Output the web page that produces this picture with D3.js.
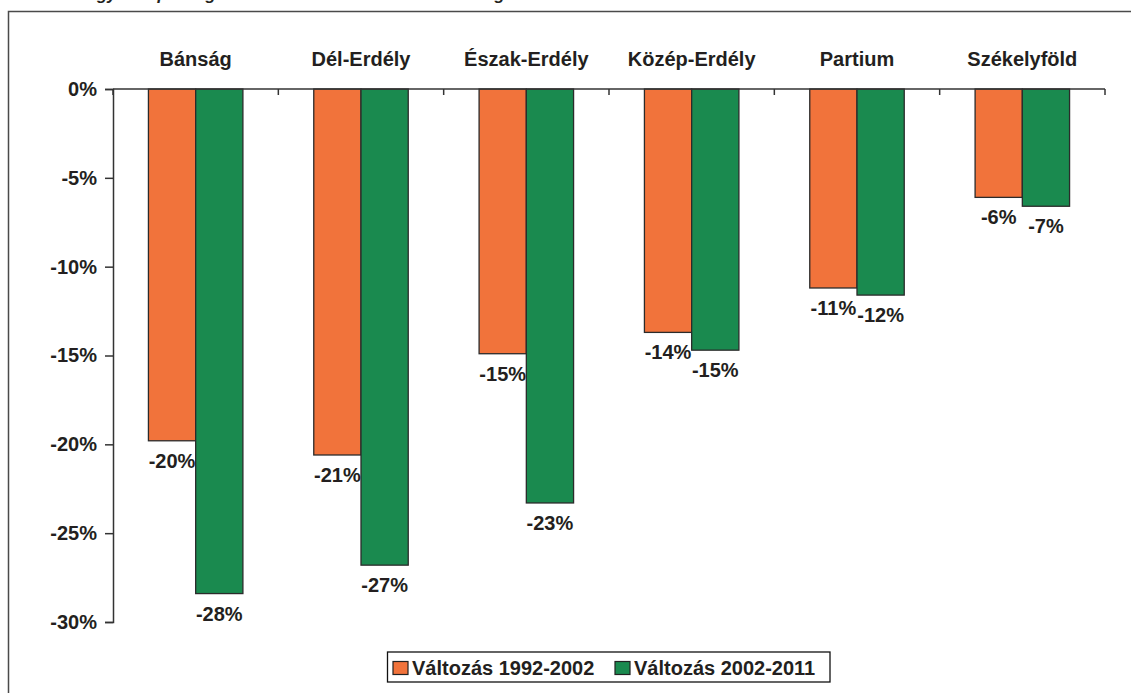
<!DOCTYPE html>
<html>
<head>
<meta charset="utf-8">
<script src="https://cdn.jsdelivr.net/npm/d3@7"></script>
<style>
  html, body { margin: 0; padding: 0; background: #fff; }
  svg { display: block; }
  text { font-family: "Liberation Sans", Arial, sans-serif; font-weight: bold; fill: #231f20; }
</style>
</head>
<body>
<div id="chart"></div>
<script>
// régiók
const categories = ["Bánság", "Dél-Erdély", "Észak-Erdély", "Közép-Erdély", "Partium", "Székelyföld"];
// változás %-ban
const change1992_2002 = [-19.8, -20.6, -14.9, -13.7, -11.2, -6.1];
const change2002_2011 = [-28.4, -26.8, -23.3, -14.7, -11.6, -6.6];
const seriesNames = ["Változás 1992-2002", "Változás 2002-2011"];
const yTicks = [0, -5, -10, -15, -20, -25, -30];

const width = 1131, height = 693;
const plot = { left: 113, right: 1105, top: 89, bottom: 622 };

const svg = d3.select("#chart").append("svg")
  .attr("width", width)
  .attr("height", height);

// chart frame (runs off the bottom / right of the crop)
svg.append("rect")
  .attr("x", 8.5).attr("y", 11.5)
  .attr("width", 1140).attr("height", 700)
  .attr("fill", "none")
  .attr("stroke", "#4a4a4a")
  .attr("stroke-width", 1.5);

// title, cut off at the top in the original - only descenders show
svg.append("text")
  .attr("x", 56).attr("y", -0.5)
  .style("font-size", "17px")
  .style("font-style", "italic")
  .text("A magyar népesség változása 1992 és 2011 között a régiókban");

const x0 = d3.scaleBand()
  .domain(categories)
  .range([plot.left, plot.right])
  .padding(0);

const barW = x0.bandwidth() / 3.5;
const x1 = d3.scaleBand()
  .domain(seriesNames)
  .range([x0.bandwidth() / 2 - barW, x0.bandwidth() / 2 + barW]);

const y = d3.scaleLinear()
  .domain([-30, 0])
  .range([plot.bottom, plot.top]);

const color = d3.scaleOrdinal()
  .domain(seriesNames)
  .range(["#f1733b", "#1a8a4f"]);

const rows = categories.map((c, i) => ({
  cat: c,
  values: [
    { key: seriesNames[0], v: change1992_2002[i] },
    { key: seriesNames[1], v: change2002_2011[i] }
  ]
}));

// bars
const groups = svg.append("g").selectAll("g")
  .data(rows)
  .join("g")
  .attr("transform", d => `translate(${x0(d.cat)},0)`);

groups.selectAll("rect")
  .data(d => d.values)
  .join("rect")
  .attr("x", d => x1(d.key))
  .attr("y", y(0))
  .attr("width", x1.bandwidth())
  .attr("height", d => y(d.v) - y(0))
  .attr("fill", d => color(d.key))
  .attr("stroke", "#2b2b2b")
  .attr("stroke-width", 1.3);

// data labels under the bars
groups.selectAll("text")
  .data(d => d.values)
  .join("text")
  .attr("x", d => x1(d.key) + x1.bandwidth() / 2)
  .attr("y", d => y(d.v) + 27)
  .attr("text-anchor", "middle")
  .style("font-size", "20px")
  .text(d => Math.round(d.v) + "%");

// y axis
const yAxis = svg.append("g")
  .attr("transform", `translate(${plot.left},0)`)
  .call(d3.axisLeft(y).tickValues(yTicks).tickSize(8).tickPadding(8).tickFormat(d => d + "%"));
yAxis.select(".domain").attr("stroke", "#333").attr("stroke-width", 1.5);
yAxis.selectAll(".tick line").attr("stroke", "#333").attr("stroke-width", 1.5);
yAxis.selectAll(".tick text")
  .style("font-size", "20px")
  .style("font-family", "'Liberation Sans', Arial, sans-serif")
  .style("font-weight", "bold")
  .attr("fill", "#231f20");

// zero line with category separators
svg.append("line")
  .attr("x1", plot.left).attr("x2", plot.right)
  .attr("y1", y(0)).attr("y2", y(0))
  .attr("stroke", "#333").attr("stroke-width", 1.5);

const seps = categories.map(c => x0(c)).concat([plot.right]);
svg.append("g").selectAll("line")
  .data(seps)
  .join("line")
  .attr("x1", d => d).attr("x2", d => d)
  .attr("y1", y(0)).attr("y2", y(0) + 6)
  .attr("stroke", "#333").attr("stroke-width", 1.5);

// category labels above
svg.append("g").selectAll("text")
  .data(categories)
  .join("text")
  .attr("x", d => x0(d) + x0.bandwidth() / 2)
  .attr("y", 66)
  .attr("text-anchor", "middle")
  .style("font-size", "20px")
  .text(d => d);

// legend
const legend = svg.append("g");
legend.append("rect")
  .attr("x", 387.5).attr("y", 652)
  .attr("width", 442.5).attr("height", 30)
  .attr("fill", "#fff")
  .attr("stroke", "#111")
  .attr("stroke-width", 1.3);

const legendX = [393, 615];
const items = legend.selectAll("g.item")
  .data(seriesNames)
  .join("g")
  .attr("class", "item")
  .attr("transform", (d, i) => `translate(${legendX[i]},0)`);

items.append("rect")
  .attr("x", 0).attr("y", 661.5)
  .attr("width", 15).attr("height", 13)
  .attr("fill", d => color(d))
  .attr("stroke", "#222")
  .attr("stroke-width", 1.2);

items.append("text")
  .attr("x", 19).attr("y", 675)
  .style("font-size", "20px")
  .text(d => d);
</script>
</body>
</html>
